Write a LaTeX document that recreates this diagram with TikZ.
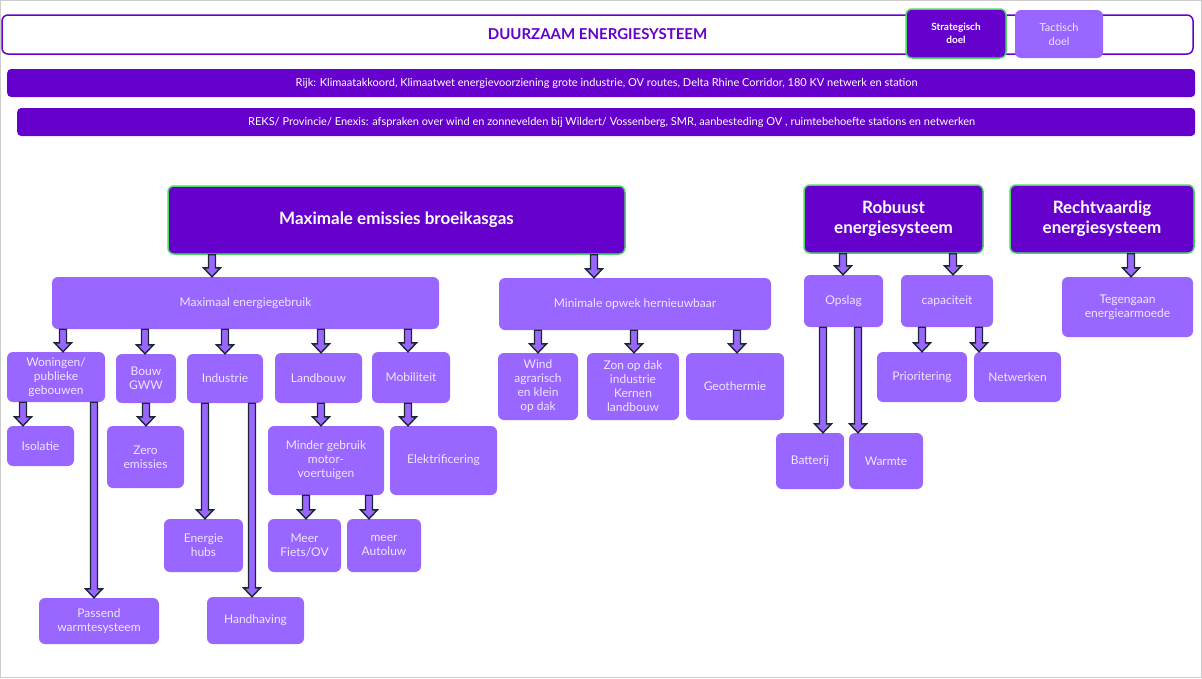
\documentclass[tikz,border=0pt]{standalone}
\usepackage{fontspec}
\setmainfont{Lato}
\usetikzlibrary{calc}
\definecolor{donker}{HTML}{6600CC}
\definecolor{licht}{HTML}{9966FF}
\definecolor{groen}{HTML}{4CD964}
\definecolor{tekst}{HTML}{EDE6FF}
\definecolor{rand}{HTML}{1B2633}
\newcommand{\barr}[3]{\path let \p1=(#2.south), \p2=(#3.north) in
  [fill=licht,draw=rand,line width=1.4pt,line join=miter]
  (#1pt-3.5pt,\y1) -- (#1pt-3.5pt,\y2+9pt) -- (#1pt-8.5pt,\y2+9pt) -- (#1pt,\y2)
  -- (#1pt+8.5pt,\y2+9pt) -- (#1pt+3.5pt,\y2+9pt) -- (#1pt+3.5pt,\y1) -- cycle;}
\begin{document}
\begin{tikzpicture}[x=1pt,y=-1pt,
  box/.style={rectangle,rounded corners=6pt,fill=licht,text=tekst,align=center,inner sep=1pt,font=\fontsize{12}{14}\selectfont},
  doel/.style={rectangle,rounded corners=6pt,fill=donker,draw=groen,line width=1.5pt,text=white,align=center,font=\bfseries\fontsize{17}{20}\selectfont},
  balk/.style={rectangle,rounded corners=4pt,fill=donker,text=white,anchor=west,inner sep=0pt,font=\fontsize{11}{13}\selectfont}]
\useasboundingbox (0,0) rectangle (1202,678);
\draw[gray!40] (0.5,0.5) rectangle (1201.5,677.5);
% kop
\node[rectangle,rounded corners=6pt,draw=donker,line width=1.5pt,fill=white,minimum width=1191,minimum height=39,text=donker,font=\bfseries\fontsize{15}{18}\selectfont] (titel) at (597.5,34.5) {DUURZAAM ENERGIESYSTEEM};
\node[doel,minimum width=100,minimum height=49,font=\bfseries\fontsize{10}{13}\selectfont] (strat) at (956,33.5) {Strategisch\\doel};
\node[box,minimum width=88,minimum height=48,font=\fontsize{11}{14}\selectfont] (tact) at (1059,34) {Tactisch\\doel};
\node[balk,minimum width=1188,minimum height=28] (rijk) at (7,83) {\hspace{11pt}Rijk: Klimaatakkoord, Klimaatwet energievoorziening grote industrie, OV routes, Delta Rhine Corridor, 180 KV netwerk en station};
\node[balk,minimum width=1178,minimum height=28] (reks) at (17,122) {\hspace{11pt}REKS/ Provincie/ Enexis: afspraken over wind en zonnevelden bij Wildert/ Vossenberg, SMR, aanbesteding OV , ruimtebehoefte stations en netwerken};
% strategische doelen
\node[doel,minimum width=457,minimum height=68] (emissie) at (396.5,220) {Maximale emissies broeikasgas};
\node[doel,minimum width=179,minimum height=68] (robuust) at (893.5,219) {Robuust\\energiesysteem};
\node[doel,minimum width=184,minimum height=68] (recht) at (1102,219) {Rechtvaardig\\energiesysteem};
% tactische doelen
\node[box,minimum width=387,minimum height=52] (gebruik) at (245.5,303) {Maximaal energiegebruik};
\node[box,minimum width=272,minimum height=52] (opwek) at (635,304) {Minimale opwek hernieuwbaar};
\node[box,minimum width=79,minimum height=52] (opslag) at (843.5,301) {Opslag};
\node[box,minimum width=92,minimum height=52] (capaciteit) at (947,301) {capaciteit};
\node[box,minimum width=131,minimum height=60] (armoede) at (1127.5,307) {Tegengaan\\energiearmoede};
\node[box,minimum width=98,minimum height=50] (woningen) at (56,377) {Woningen/\\publieke\\gebouwen};
\node[box,minimum width=60,minimum height=49] (bouw) at (146,378.5) {Bouw\\GWW};
\node[box,minimum width=76,minimum height=49] (industrie) at (225,378.5) {Industrie};
\node[box,minimum width=87,minimum height=50] (landbouw) at (318.5,378) {Landbouw};
\node[box,minimum width=78,minimum height=51] (mobiliteit) at (411,377.5) {Mobiliteit};
\node[box,minimum width=80,minimum height=67] (wind) at (538,386.5) {Wind\\agrarisch\\en klein\\op dak};
\node[box,minimum width=92,minimum height=67] (zon) at (633,386.5) {Zon op dak\\industrie\\Kernen\\landbouw};
\node[box,minimum width=98,minimum height=67] (geo) at (735,386.5) {Geothermie};
\node[box,minimum width=90,minimum height=50] (prio) at (922,377) {Prioritering};
\node[box,minimum width=87,minimum height=50] (netwerk) at (1017.5,377) {Netwerken};
\node[box,minimum width=67,minimum height=40] (isolatie) at (40.5,446) {Isolatie};
\node[box,minimum width=77,minimum height=62] (zero) at (145.5,457) {Zero\\emissies};
\node[box,minimum width=116,minimum height=69] (minder) at (326,460.5) {Minder gebruik\\motor-\\voertuigen};
\node[box,minimum width=107,minimum height=69] (elektr) at (443.5,460.5) {Elektrificering};
\node[box,minimum width=68,minimum height=56] (batterij) at (810,461) {Batterij};
\node[box,minimum width=74,minimum height=56] (warmte) at (886,461) {Warmte};
\node[box,minimum width=79,minimum height=53] (hubs) at (203.5,545.5) {Energie\\hubs};
\node[box,minimum width=73,minimum height=53] (fiets) at (304.5,545.5) {Meer\\Fiets/OV};
\node[box,minimum width=74,minimum height=53] (autoluw) at (384,545.5) {meer\\Autoluw};
\node[box,minimum width=120,minimum height=46] (passend) at (99,621) {Passend\\warmtesysteem};
\node[box,minimum width=97,minimum height=47] (handhaving) at (255.5,620.5) {Handhaving};
% pijlen
\barr{212}{emissie}{gebruik}
\barr{594}{emissie}{opwek}
\barr{843}{robuust}{opslag}
\barr{953}{robuust}{capaciteit}
\barr{1131}{recht}{armoede}
\barr{63}{gebruik}{woningen}
\barr{145}{gebruik}{bouw}
\barr{225}{gebruik}{industrie}
\barr{321}{gebruik}{landbouw}
\barr{408}{gebruik}{mobiliteit}
\barr{538}{opwek}{wind}
\barr{634}{opwek}{zon}
\barr{737}{opwek}{geo}
\barr{922}{capaciteit}{prio}
\barr{979}{capaciteit}{netwerk}
\barr{23}{woningen}{isolatie}
\barr{94}{woningen}{passend}
\barr{146}{bouw}{zero}
\barr{205}{industrie}{hubs}
\barr{252}{industrie}{handhaving}
\barr{321}{landbouw}{minder}
\barr{408}{mobiliteit}{elektr}
\barr{306}{minder}{fiets}
\barr{369}{minder}{autoluw}
\barr{823}{opslag}{batterij}
\barr{858}{opslag}{warmte}
\end{tikzpicture}
\end{document}
